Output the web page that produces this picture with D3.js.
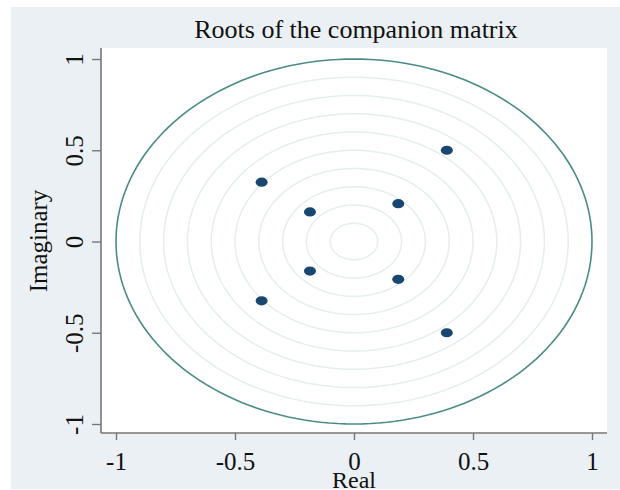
<!DOCTYPE html>
<html>
<head>
<meta charset="utf-8">
<script src="https://cdn.jsdelivr.net/npm/d3@7"></script>
<style>
  html, body { margin: 0; padding: 0; background: #fff; }
  svg { display: block; }
  text { font-family: "Liberation Serif", "Times New Roman", serif; fill: #111; }
</style>
</head>
<body>
<svg id="chart"></svg>
<script>
// eigenvalues
var realPart = [0.39, 0.39, -0.388, -0.388, -0.185, -0.185, 0.186, 0.186];
var imagPart = [0.50, -0.50, 0.325, -0.325, 0.162, -0.162, 0.207, -0.207];
var ringRadii = [0.1, 0.2, 0.3, 0.4, 0.5, 0.6, 0.7, 0.8, 0.9];
var xTicks = [-1, -0.5, 0, 0.5, 1];
var yTicks = [-1, -0.5, 0, 0.5, 1];

var width = 620, height = 490;
var svg = d3.select("#chart").attr("width", width).attr("height", height);

// outer background
svg.append("rect").attr("x", 11).attr("y", 7).attr("width", width - 11).attr("height", 482)
  .attr("fill", "#eaf0f3");

var plot = { left: 101, right: 607, top: 48, bottom: 433 };
svg.append("rect").attr("x", plot.left).attr("y", plot.top)
  .attr("width", plot.right - plot.left).attr("height", plot.bottom - plot.top)
  .attr("fill", "#fff");

var x = d3.scaleLinear().domain([-1, 1]).range([116, 592]);
var y = d3.scaleLinear().domain([-1, 1]).range([424, 59]);

var circleLine = d3.line().x(function (d) { return x(d[0]); }).y(function (d) { return y(d[1]); });
function ring(r) {
  return d3.range(0, 361, 2).map(function (a) {
    var t = a * Math.PI / 180;
    return [r * Math.cos(t), r * Math.sin(t)];
  });
}

svg.append("g").selectAll("path").data(ringRadii).enter().append("path")
  .attr("d", function (r) { return circleLine(ring(r)); })
  .attr("fill", "none").attr("stroke", "#e4eeee").attr("stroke-width", 1.5);

svg.append("path").attr("d", circleLine(ring(1)))
  .attr("fill", "none").attr("stroke", "#4a8c85").attr("stroke-width", 1.6);

svg.append("g").selectAll("ellipse").data(realPart).enter().append("ellipse")
  .attr("cx", function (d) { return x(d); })
  .attr("cy", function (d, i) { return y(imagPart[i]); })
  .attr("rx", 6).attr("ry", 4.6)
  .attr("fill", "#1a476f");

// axes
var fmt = function (d) { return String(d); };
var xAxis = svg.append("g").attr("transform", "translate(0," + plot.bottom + ")")
  .call(d3.axisBottom(x).tickValues(xTicks).tickSize(7).tickPadding(12).tickFormat(fmt));
xAxis.select(".domain").attr("d", "M" + plot.left + ",0H" + plot.right);
var yAxis = svg.append("g").attr("transform", "translate(" + plot.left + ",0)")
  .call(d3.axisLeft(y).tickValues(yTicks).tickSize(9).tickFormat(fmt));
yAxis.select(".domain").attr("d", "M0," + plot.top + "V" + plot.bottom);

svg.selectAll(".domain").attr("stroke", "#777").attr("stroke-width", 1.6);
svg.selectAll(".tick line").attr("stroke", "#777").attr("stroke-width", 1.4);
xAxis.selectAll(".tick text").attr("font-size", 25).attr("fill", "#111")
  .attr("font-family", "Liberation Serif");
yAxis.selectAll(".tick text").attr("font-size", 25).attr("fill", "#111")
  .attr("font-family", "Liberation Serif")
  .attr("text-anchor", "middle").attr("dy", 0)
  .attr("transform", "translate(-9,0) rotate(-90)")
  .attr("x", 0).attr("y", -9);

svg.append("text").attr("x", 356).attr("y", 38).attr("text-anchor", "middle")
  .attr("font-size", 26).text("Roots of the companion matrix");
svg.append("text").attr("x", 354).attr("y", 488).attr("text-anchor", "middle")
  .attr("font-size", 24).text("Real");
svg.append("text").attr("transform", "translate(47,241) rotate(-90)")
  .attr("text-anchor", "middle").attr("font-size", 25).text("Imaginary");
</script>
</body>
</html>
